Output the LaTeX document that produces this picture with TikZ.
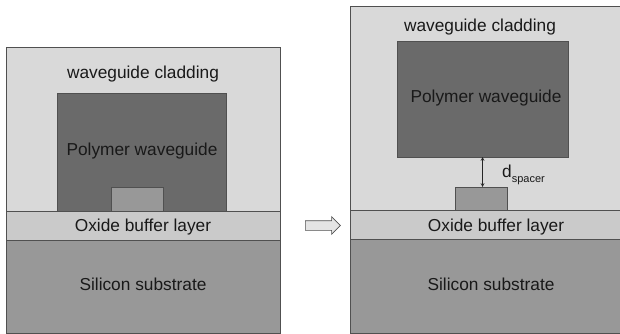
\documentclass[tikz,border=0pt]{standalone}
\usepackage{fontspec}
\setmainfont{Liberation Sans}
\usetikzlibrary{shapes.arrows}
\definecolor{clad}{RGB}{217,217,217}
\definecolor{poly}{RGB}{106,106,106}
\definecolor{core}{RGB}{152,152,152}
\definecolor{oxide}{RGB}{202,202,202}
\definecolor{silicon}{RGB}{152,152,152}
\definecolor{edge}{RGB}{80,80,80}
\tikzset{
  layer/.style={draw=edge, line width=0.8pt, inner sep=0pt, outer sep=0pt, anchor=north west},
  lbl/.style={font=\fontsize{17.3}{20}\selectfont, text=black!90, inner sep=0pt},
}
\begin{document}
\begin{tikzpicture}[x=1pt,y=-1pt]
\useasboundingbox (0,0) rectangle (620,334);
% ---- left panel ----
\node[layer, fill=clad, minimum width=274pt, minimum height=164pt] (clad1) at (6,47) {};
\node[layer, fill=poly, minimum width=169pt, minimum height=118pt] (poly1) at (57,93) {};
\node[layer, fill=core, minimum width=52pt, minimum height=24pt] (core1) at (111,187) {};
\node[layer, fill=oxide, minimum width=274pt, minimum height=29pt] (ox1) at (6,211) {};
\node[layer, fill=silicon, minimum width=274pt, minimum height=93pt] (si1) at (6,240) {};
\node[lbl] (t1) at (143,74) {waveguide cladding};
\node[lbl] (t2) at (142,151) {Polymer waveguide};
\node[lbl] (t3) at (143,227) {Oxide buffer layer};
\node[lbl] (t4) at (143,284) {Silicon substrate};
% ---- arrow ----
\node[single arrow, draw=edge, fill=clad!70!white, line width=0.6pt, minimum height=35pt, single arrow head extend=4pt, inner xsep=0pt, inner ysep=4.5pt, outer sep=0pt] (arr) at (320.5,225.5) {};
% ---- right panel ----
\node[layer, fill=clad, minimum width=270pt, minimum height=204pt] (clad2) at (350,6) {};
\node[layer, fill=poly, minimum width=171pt, minimum height=116pt] (poly2) at (397,41) {};
\node[layer, fill=core, minimum width=52pt, minimum height=23pt] (core2) at (455,187) {};
\node[layer, fill=oxide, minimum width=270pt, minimum height=29pt] (ox2) at (350,210) {};
\node[layer, fill=silicon, minimum width=270pt, minimum height=94pt] (si2) at (350,239) {};
\node[lbl] (r1) at (480,27) {waveguide cladding};
\node[lbl] (r2) at (486,98) {Polymer waveguide};
\node[lbl] (r3) at (496,227) {Oxide buffer layer};
\node[lbl] (r4) at (491,284) {Silicon substrate};
\draw[<->, >=stealth, line width=0.7pt, black!85] (poly2.south) -- (poly2.south |- core2.north);
\node[lbl, anchor=base west] (ds) at (502,177) {d\raisebox{-5pt}{\fontsize{11}{12}\selectfont spacer}};
\end{tikzpicture}
\end{document}
